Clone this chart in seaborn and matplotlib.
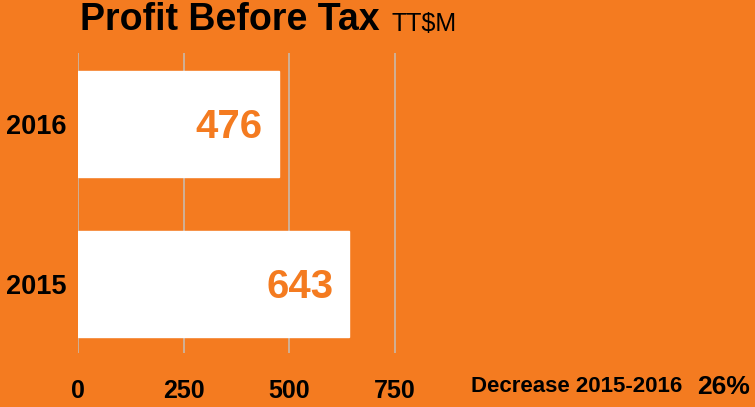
import matplotlib
matplotlib.use("Agg")
import matplotlib.pyplot as plt
import seaborn as sns
import pandas as pd

years = ["2016", "2015"]
profit = [476, 643]
x_ticks = [0, 250, 500, 750]
change_label = "Decrease 2015-2016"
change_value = "26%"

ORANGE = "#F47B20"
GRID = "#C9B9AA"

sns.set_theme(style="white")
plt.rcParams["font.family"] = ["Liberation Sans", "DejaVu Sans"]

W, H = 755, 407
fig = plt.figure(figsize=(W / 100, H / 100), dpi=100, facecolor=ORANGE)
ax_left, ax_right, ax_top, ax_bottom = 78, 755, 53, 353
ax = fig.add_axes([ax_left / W, 1 - ax_bottom / H, (ax_right - ax_left) / W, (ax_bottom - ax_top) / H])
ax.set_facecolor(ORANGE)

df = pd.DataFrame({"year": years, "profit": profit})
sns.barplot(data=df, y="year", x="profit", orient="h", color="white",
            saturation=1, width=0.66, ax=ax, zorder=3)

px_per_unit = 316.5 / 750
ax.set_xlim(0, (ax_right - ax_left) / px_per_unit)
ax.set_ylim(1.43, -0.444)

ax.set_xticks(x_ticks)
ax.set_xticklabels([str(t) for t in x_ticks], fontsize=18, fontweight="bold", color="black")
ax.tick_params(axis="x", length=0, pad=19)
ax.tick_params(axis="y", length=0, pad=8)
for lab in ax.get_yticklabels():
    lab.set_fontsize(19.5)
    lab.set_fontweight("bold")
    lab.set_color("black")
ax.grid(axis="x", color=GRID, linewidth=1.2, zorder=1)
ax.grid(axis="y", visible=False)
for s in ax.spines.values():
    s.set_visible(False)
ax.set_xlabel("")
ax.set_ylabel("")

# value labels inside the bars, right-aligned near the bar end
label_gap = 16 / px_per_unit
for i, v in enumerate(profit):
    ax.text(v - label_gap, i + 0.02, str(v), ha="right", va="center", color=ORANGE,
            fontsize=29, fontweight="bold", zorder=4)

fig.text(80 / W, 1 - 20 / H, "Profit Before Tax", fontsize=27, fontweight="bold",
         color="black", va="center", ha="left")
fig.text(392 / W, 1 - 24 / H, "TT$M", fontsize=18, color="black", va="center", ha="left")

fig.text(471 / W, 1 - 387 / H, change_label, fontsize=16, fontweight="bold",
         color="black", va="center", ha="left")
fig.text(750 / W, 1 - 387 / H, change_value, fontsize=19, fontweight="bold",
         color="black", va="center", ha="right")

fig.savefig("out.png", dpi=100, facecolor=ORANGE)
